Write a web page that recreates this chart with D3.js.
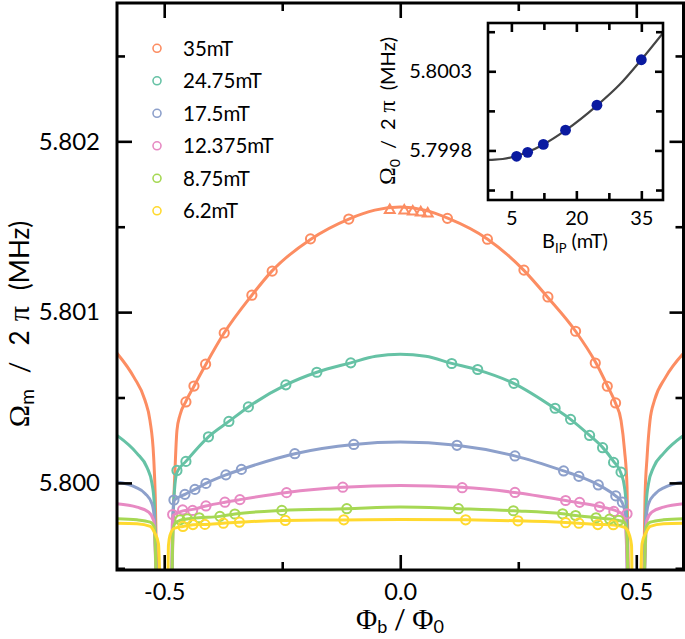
<!DOCTYPE html>
<html><head><meta charset="utf-8">
<script src="https://cdn.jsdelivr.net/npm/d3@7"></script>
<style>body{margin:0;background:#fff}svg{display:block}</style>
</head><body>
<svg id="c" width="685" height="639"></svg>
<script>
// ---------------- data ----------------
const fieldLabels = ["35mT","24.75mT","17.5mT","12.375mT","8.75mT","6.2mT"];
const colors = ["#fc8d62","#66c2a5","#8da0cb","#e78ac3","#a6d854","#ffd92f"];

const xMajor = [-0.5, 0, 0.5];
const xMinor = [-0.25, 0.25];
const yMajor = [5.800, 5.801, 5.802];
const yMinor = [5.7995, 5.8005, 5.8015, 5.8025];

// measured points [flux, frequency MHz]
const obs35 = [[-0.4540,5.800474],[-0.4370,5.800567],[-0.4123,5.800695],[-0.3729,5.800878],[-0.3143,5.801099],[-0.2713,5.801240],[-0.1901,5.801429],[-0.1090,5.801545],[0.0999,5.801549],[0.1846,5.801427],[0.2620,5.801246],[0.3128,5.801089],[0.3714,5.800888],[0.4131,5.800702],[0.4385,5.800566],[0.4561,5.800468]];
const tri35 = [[-0.0222,5.801597],[0.0085,5.801594],[0.0265,5.801588],[0.0434,5.801583],[0.0582,5.801577]];
const obs24 = [[-0.4730,5.800073],[-0.4540,5.800126],[-0.4063,5.800270],[-0.3630,5.800360],[-0.3217,5.800445],[-0.2423,5.800574],[-0.1767,5.800648],[-0.1048,5.800703],[0.1090,5.800699],[0.1640,5.800664],[0.2406,5.800583],[0.3280,5.800437],[0.3608,5.800372],[0.4011,5.800278],[0.4286,5.800206],[0.4519,5.800120],[0.4677,5.800063]];
const obs17 = [[-0.4794,5.799900],[-0.4561,5.799933],[-0.4349,5.799962],[-0.4116,5.799997],[-0.3693,5.800047],[-0.3365,5.800079],[-0.2233,5.800171],[-0.0984,5.800225],[0.1202,5.800220],[0.2430,5.800158],[0.3460,5.800070],[0.3784,5.800038],[0.4195,5.799988],[0.4565,5.799924],[0.4705,5.799887]];
const obs12 = [[-0.4821,5.799815],[-0.4610,5.799842],[-0.4398,5.799839],[-0.4116,5.799865],[-0.3714,5.799887],[-0.3397,5.799902],[-0.2408,5.799943],[-0.1217,5.799975],[0.1312,5.799972],[0.2430,5.799944],[0.3503,5.799897],[0.3799,5.799886],[0.4222,5.799860],[0.4525,5.799833],[0.4804,5.799819]];
const obs8 = [[-0.4667,5.799784],[-0.4512,5.799790],[-0.4258,5.799796],[-0.3820,5.799804],[-0.3503,5.799818],[-0.2508,5.799839],[-0.1132,5.799849],[0.1232,5.799849],[0.2396,5.799837],[0.3439,5.799819],[0.3714,5.799809],[0.4148,5.799796],[0.4434,5.799788],[0.4631,5.799780]];
const obs6 = [[-0.4603,5.799745],[-0.4392,5.799756],[-0.4138,5.799757],[-0.3746,5.799764],[-0.3407,5.799770],[-0.2434,5.799780],[-0.1196,5.799784],[0.1386,5.799784],[0.2493,5.799778],[0.3503,5.799767],[0.3784,5.799764],[0.4186,5.799756],[0.4512,5.799755]];

// fitted curves, central branch and the two outer branches
const fit35Mid = [[-0.4836,5.7994],[-0.4815,5.799722],[-0.4772,5.800073],[-0.4730,5.800308],[-0.4667,5.800396],[-0.4540,5.800478],[-0.4370,5.800566],[-0.4116,5.800695],[-0.3735,5.800876],[-0.3143,5.801099],[-0.2720,5.801240],[-0.1894,5.801427],[-0.1090,5.801545],[-0.0540,5.801597],[0,5.801615],[0.0519,5.801597],[0.1005,5.801550],[0.1852,5.801427],[0.2614,5.801246],[0.3122,5.801087],[0.3714,5.800888],[0.4138,5.800706],[0.4392,5.800566],[0.4561,5.800466],[0.4677,5.800366],[0.4751,5.800191],[0.4804,5.799974],[0.4836,5.7994]];
const fit35L = [[-0.6,5.800759],[-0.5640,5.800618],[-0.5407,5.800484],[-0.5302,5.800366],[-0.5223,5.800149],[-0.5189,5.799915],[-0.5153,5.7994]];
const fit35R = [[0.5153,5.7994],[0.5185,5.799915],[0.5228,5.800149],[0.5291,5.800366],[0.5386,5.800484],[0.5619,5.800618],[0.6,5.800759]];

const fit24Mid = [[-0.4836,5.7994],[-0.4815,5.799780],[-0.4783,5.799956],[-0.4730,5.800062],[-0.4540,5.800126],[-0.4063,5.800270],[-0.3630,5.800360],[-0.3217,5.800445],[-0.2423,5.800574],[-0.1767,5.800648],[-0.1048,5.800703],[-0.052,5.800741],[0,5.800753],[0.054,5.800741],[0.1090,5.800700],[0.1640,5.800662],[0.2402,5.800583],[0.3270,5.800437],[0.3608,5.800372],[0.4011,5.800278],[0.4286,5.800208],[0.4519,5.800126],[0.4677,5.800056],[0.4751,5.799974],[0.4794,5.799821],[0.4825,5.7994]];
const fit24L = [[-0.6,5.800278],[-0.5577,5.800173],[-0.5365,5.800091],[-0.5259,5.799997],[-0.5211,5.799880],[-0.5168,5.7994]];
const fit24R = [[0.5168,5.7994],[0.5211,5.799880],[0.5259,5.799997],[0.5365,5.800091],[0.5577,5.800173],[0.6,5.800278]];

const fit17Mid = [[-0.4836,5.7994],[-0.4825,5.799722],[-0.4804,5.799868],[-0.4794,5.799897],[-0.4561,5.799933],[-0.4349,5.799962],[-0.4116,5.799997],[-0.3693,5.800047],[-0.3365,5.800079],[-0.2233,5.800171],[-0.0984,5.800225],[0,5.800239],[0.1196,5.800220],[0.2423,5.800158],[0.3460,5.800070],[0.3794,5.800038],[0.4201,5.799988],[0.4561,5.799924],[0.4698,5.799887],[0.4772,5.799809],[0.4815,5.7994]];
const fit17L = [[-0.6,5.800005],[-0.5613,5.799975],[-0.5401,5.799937],[-0.5259,5.799878],[-0.5211,5.799800],[-0.5168,5.7994]];
const fit17R = [[0.5168,5.7994],[0.5211,5.799800],[0.5259,5.799878],[0.5401,5.799937],[0.5613,5.799975],[0.6,5.800005]];

const fit12Mid = [[-0.4836,5.7994],[-0.4830,5.799751],[-0.4815,5.799809],[-0.4603,5.799836],[-0.4392,5.799845],[-0.4116,5.799865],[-0.3714,5.799887],[-0.3397,5.799902],[-0.2402,5.799944],[-0.1217,5.799974],[0,5.799985],[0.1302,5.799974],[0.2423,5.799944],[0.3503,5.799897],[0.3799,5.799883],[0.4222,5.799862],[0.4519,5.799842],[0.4688,5.799821],[0.4772,5.799751],[0.4815,5.7994]];
const fit12L = [[-0.6,5.799878],[-0.5577,5.799858],[-0.5329,5.799829],[-0.5223,5.799780],[-0.5168,5.7994]];
const fit12R = [[0.5168,5.7994],[0.5223,5.799780],[0.5329,5.799829],[0.5577,5.799858],[0.6,5.799878]];

const fit8Mid = [[-0.4836,5.7994],[-0.4815,5.799722],[-0.4772,5.799763],[-0.4667,5.799780],[-0.4519,5.799789],[-0.4265,5.799796],[-0.3820,5.799804],[-0.3503,5.799818],[-0.2508,5.799839],[-0.1132,5.799849],[0,5.799859],[0.1238,5.799849],[0.2402,5.799837],[0.3439,5.799819],[0.3714,5.799809],[0.4159,5.799796],[0.4434,5.799789],[0.4624,5.799780],[0.4751,5.799768],[0.4794,5.799722],[0.4825,5.7994]];
const fit8L = [[-0.6,5.799790],[-0.5577,5.799784],[-0.5295,5.799770],[-0.5211,5.799741],[-0.5168,5.7994]];
const fit8R = [[0.5168,5.7994],[0.5211,5.799741],[0.5295,5.799770],[0.5577,5.799784],[0.6,5.799790]];

const fit6Mid = [[-0.4921,5.7994],[-0.4910,5.799634],[-0.4878,5.799692],[-0.4794,5.799733],[-0.4603,5.799745],[-0.4392,5.799755],[-0.4138,5.799757],[-0.3757,5.799764],[-0.3407,5.799770],[-0.2444,5.799780],[-0.1196,5.799783],[0,5.799786],[0.1386,5.799784],[0.2487,5.799778],[0.3503,5.799768],[0.3778,5.799764],[0.4180,5.799757],[0.4519,5.799754],[0.4751,5.799739],[0.4857,5.799692],[0.4899,5.799634],[0.4910,5.7994]];
const fit6L = [[-0.6,5.799764],[-0.5577,5.799761],[-0.5295,5.799745],[-0.5211,5.799712],[-0.5122,5.799644],[-0.5090,5.7994]];
const fit6R = [[0.5090,5.7994],[0.5122,5.799644],[0.5211,5.799712],[0.5295,5.799745],[0.5577,5.799761],[0.6,5.799764]];

// inset: Omega_0 vs in-plane field
const insetB = [6.2, 8.75, 12.375, 17.5, 24.75, 35];
const insetOmega = [5.799763, 5.799788, 5.799838, 5.799928, 5.800086, 5.800373];
const insetFitB = [-0.4, 0, 3, 6.2, 8.75, 12.4, 17.4, 24.8, 30, 35, 40];
const insetFitOmega = [5.799739, 5.799740, 5.799746, 5.799765, 5.799790, 5.799838, 5.799925, 5.800085, 5.800216, 5.800373, 5.800542];
const insetXMajor = [5, 20, 35];
const insetXMinor = [12.5, 27.5];
const insetYMajor = [5.7998, 5.8003];
const insetYMinor = [5.79955, 5.80005, 5.80055];

// ---------------- drawing ----------------
const svg = d3.select("#c");
const SANS = "Lato, 'Open Sans', sans-serif";
const SERIF = "'Liberation Serif', 'DejaVu Serif', serif";
svg.append("rect").attr("width",685).attr("height",639).attr("fill","#fff");

const M = {left:117, right:683.5, top:3, bottom:570};
const x = d3.scaleLinear().domain([-0.6,0.6]).range([M.left,M.right]);
const y = d3.scaleLinear().domain([5.79949,5.80281]).range([M.bottom,M.top]);

svg.append("defs").append("clipPath").attr("id","clip")
  .append("rect").attr("x",M.left).attr("y",M.top).attr("width",M.right-M.left).attr("height",M.bottom-M.top);

const series = [
  {obs:obs35, mid:fit35Mid, l:fit35L, r:fit35R},
  {obs:obs24, mid:fit24Mid, l:fit24L, r:fit24R},
  {obs:obs17, mid:fit17Mid, l:fit17L, r:fit17R},
  {obs:obs12, mid:fit12Mid, l:fit12L, r:fit12R},
  {obs:obs8,  mid:fit8Mid,  l:fit8L,  r:fit8R},
  {obs:obs6,  mid:fit6Mid,  l:fit6L,  r:fit6R}
];

const line = d3.line().x(d=>x(d[0])).y(d=>y(d[1])).curve(d3.curveMonotoneX);
const plot = svg.append("g").attr("clip-path","url(#clip)");

series.forEach((s,i)=>{
  const g = plot.append("g");
  [s.l, s.mid, s.r].forEach(seg=>{
    g.append("path").attr("d",line(seg)).attr("fill","none")
      .attr("stroke",colors[i]).attr("stroke-width",3).attr("stroke-linejoin","round");
  });
});
series.forEach((s,i)=>{
  plot.append("g").selectAll("circle").data(s.obs).join("circle")
    .attr("cx",d=>x(d[0])).attr("cy",d=>y(d[1])).attr("r",4.6)
    .attr("fill","none").attr("stroke",colors[i]).attr("stroke-width",2);
});
plot.append("g").selectAll("path").data(tri35).join("path")
  .attr("d",d3.symbol(d3.symbolTriangle,42)())
  .attr("transform",d=>`translate(${x(d[0])},${y(d[1])})`)
  .attr("fill","none").attr("stroke",colors[0]).attr("stroke-width",2);

// axes
function styleAxis(g){
  g.select(".domain").remove();
  g.selectAll(".tick line").attr("stroke","#000").attr("stroke-width",2.6);
  g.selectAll("text").attr("font-family",SANS).attr("fill","#000");
}
const fx = d=>d.toFixed(1);
svg.append("g").attr("transform",`translate(0,${M.bottom})`)
  .call(d3.axisBottom(x).tickValues(xMajor).tickSize(-15).tickPadding(13).tickFormat(fx))
  .call(styleAxis).selectAll("text").attr("font-size",23.5);
svg.append("g").attr("transform",`translate(0,${M.bottom})`)
  .call(d3.axisBottom(x).tickValues(xMinor).tickSize(-8).tickFormat("")).call(styleAxis);
svg.append("g").attr("transform",`translate(0,${M.top})`)
  .call(d3.axisTop(x).tickValues(xMajor).tickSize(-15).tickFormat("")).call(styleAxis);
svg.append("g").attr("transform",`translate(0,${M.top})`)
  .call(d3.axisTop(x).tickValues(xMinor).tickSize(-8).tickFormat("")).call(styleAxis);
svg.append("g").attr("transform",`translate(${M.left},0)`)
  .call(d3.axisLeft(y).tickValues(yMajor).tickSize(-15).tickPadding(17).tickFormat(d=>d.toFixed(3)))
  .call(styleAxis).selectAll("text").attr("font-size",24);
svg.append("g").attr("transform",`translate(${M.left},0)`)
  .call(d3.axisLeft(y).tickValues(yMinor).tickSize(-8).tickFormat("")).call(styleAxis);
svg.append("g").attr("transform",`translate(${M.right},0)`)
  .call(d3.axisRight(y).tickValues(yMajor).tickSize(-14).tickFormat("")).call(styleAxis);
svg.append("g").attr("transform",`translate(${M.right},0)`)
  .call(d3.axisRight(y).tickValues(yMinor).tickSize(-8).tickFormat("")).call(styleAxis);

svg.append("rect").attr("x",M.left).attr("y",M.top).attr("width",M.right-M.left).attr("height",M.bottom-M.top)
  .attr("fill","none").attr("stroke","#000").attr("stroke-width",3);

// axis titles
const xt = svg.append("text").attr("x",400).attr("y",629).attr("text-anchor","middle")
  .attr("font-family",SANS).attr("font-size",26).attr("fill","#000");
xt.append("tspan").attr("font-family",SERIF).attr("font-size",29).text("Φ");
xt.append("tspan").attr("font-size",18).attr("dy",4).text("b");
xt.append("tspan").attr("dy",-4).text(" / ");
xt.append("tspan").attr("font-family",SERIF).attr("font-size",29).text("Φ");
xt.append("tspan").attr("font-size",18).attr("dy",4).text("0");

const yt = svg.append("text").attr("transform","translate(29,324) rotate(-90)").attr("text-anchor","middle")
  .attr("font-family",SANS).attr("font-size",26).attr("fill","#000");
yt.append("tspan").attr("font-family",SERIF).attr("font-size",30).text("Ω");
yt.append("tspan").attr("font-size",19).attr("dy",5).text("m");
yt.append("tspan").attr("dy",-5).attr("dx",16).text("/");
yt.append("tspan").attr("dx",16).text("2");
yt.append("tspan").attr("dx",9).attr("font-family",SERIF).attr("font-size",30).text("π");
yt.append("tspan").attr("dx",16).text("(MHz)");

// legend
const lg = svg.append("g");
fieldLabels.forEach((l,i)=>{
  const cy = 48.3 + i*32.5;
  lg.append("circle").attr("cx",157).attr("cy",cy).attr("r",4).attr("fill","none")
    .attr("stroke",colors[i]).attr("stroke-width",1.6);
  lg.append("text").attr("x",183).attr("y",cy+7.5).attr("font-family",SANS).attr("font-size",20.5)
    .attr("fill","#000").text(l);
});

// ---------------- inset ----------------
const I = {left:488, right:663, top:23, bottom:200};
const ix = d3.scaleLinear().domain([-0.4,40]).range([I.left,I.right]);
const iy = d3.scaleLinear().domain([5.799487,5.800605]).range([I.bottom,I.top]);
const inset = svg.append("g");
inset.append("rect").attr("x",I.left).attr("y",I.top).attr("width",I.right-I.left).attr("height",I.bottom-I.top).attr("fill","#fff");
inset.append("defs").append("clipPath").attr("id","iclip").append("rect")
  .attr("x",I.left).attr("y",I.top).attr("width",I.right-I.left).attr("height",I.bottom-I.top);
const fitPts = insetFitB.map((b,k)=>[b, insetFitOmega[k]]);
inset.append("path").attr("clip-path","url(#iclip)")
  .attr("d",d3.line().x(d=>ix(d[0])).y(d=>iy(d[1])).curve(d3.curveMonotoneX)(fitPts))
  .attr("fill","none").attr("stroke","#444").attr("stroke-width",2.2);
inset.selectAll("circle.p").data(insetB.map((b,k)=>[b, insetOmega[k]])).join("circle")
  .attr("cx",d=>ix(d[0])).attr("cy",d=>iy(d[1])).attr("r",5.4).attr("fill","#0a1aa0");

inset.append("g").attr("transform",`translate(0,${I.bottom})`)
  .call(d3.axisBottom(ix).tickValues(insetXMajor).tickSize(-9).tickPadding(11).tickFormat(d3.format("d")))
  .call(styleAxis).selectAll("text").attr("font-size",20);
inset.append("g").attr("transform",`translate(0,${I.bottom})`)
  .call(d3.axisBottom(ix).tickValues(insetXMinor).tickSize(-7).tickFormat("")).call(styleAxis);
inset.append("g").attr("transform",`translate(0,${I.top})`)
  .call(d3.axisTop(ix).tickValues(insetXMajor).tickSize(-9).tickFormat("")).call(styleAxis);
inset.append("g").attr("transform",`translate(0,${I.top})`)
  .call(d3.axisTop(ix).tickValues(insetXMinor).tickSize(-7).tickFormat("")).call(styleAxis);
inset.append("g").attr("transform",`translate(${I.left},0)`)
  .call(d3.axisLeft(iy).tickValues(insetYMajor).tickSize(-8).tickPadding(16).tickFormat(d=>d.toFixed(4)))
  .call(styleAxis).selectAll("text").attr("font-size",20);
inset.append("g").attr("transform",`translate(${I.left},0)`)
  .call(d3.axisLeft(iy).tickValues(insetYMinor).tickSize(-7).tickFormat("")).call(styleAxis);
inset.append("g").attr("transform",`translate(${I.right},0)`)
  .call(d3.axisRight(iy).tickValues(insetYMajor).tickSize(-8).tickFormat("")).call(styleAxis);
inset.append("g").attr("transform",`translate(${I.right},0)`)
  .call(d3.axisRight(iy).tickValues(insetYMinor).tickSize(-7).tickFormat("")).call(styleAxis);
inset.append("rect").attr("x",I.left).attr("y",I.top).attr("width",I.right-I.left).attr("height",I.bottom-I.top)
  .attr("fill","none").attr("stroke","#000").attr("stroke-width",2.6);

const ixt = inset.append("text").attr("x",575).attr("y",248).attr("text-anchor","middle")
  .attr("font-family",SANS).attr("font-size",20).attr("fill","#000");
ixt.append("tspan").text("B");
ixt.append("tspan").attr("font-size",13).attr("dy",5).text("IP");
ixt.append("tspan").attr("dy",-5).text(" (mT)");

const iyt = inset.append("text").attr("transform","translate(395,111) rotate(-90)").attr("text-anchor","middle")
  .attr("font-family",SANS).attr("font-size",20).attr("fill","#000");
iyt.append("tspan").attr("font-family",SERIF).attr("font-size",24).text("Ω");
iyt.append("tspan").attr("font-size",14).attr("dy",5).text("0");
iyt.append("tspan").attr("dy",-5).attr("dx",10).text("/");
iyt.append("tspan").attr("dx",10).text("2");
iyt.append("tspan").attr("dx",6).attr("font-family",SERIF).attr("font-size",24).text("π");
iyt.append("tspan").attr("dx",10).text("(MHz)");
</script>
</body></html>
